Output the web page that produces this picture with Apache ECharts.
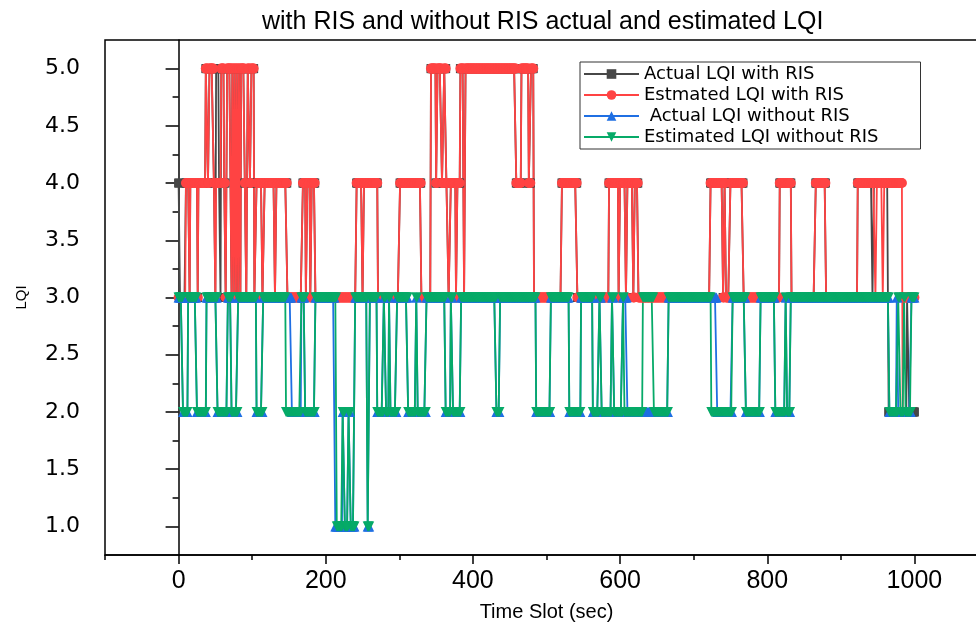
<!DOCTYPE html>
<html>
<head>
<meta charset="utf-8">
<title>LQI</title>
<script src="https://cdn.jsdelivr.net/npm/echarts@6.0.0/dist/echarts.min.js"></script>
<style>
  html, body { margin: 0; padding: 0; background: #fff; overflow: hidden; }
  #chart { width: 976px; height: 622px; }
</style>
</head>
<body>
<div id="chart"></div>
<script>
// 数据: 每个序列按 [起始时隙, LQI] 分段记录, 值保持到下一段开始
const slotCount = 1000

const actualWithRIS = [
    [0, 4], [2, 3], [10, 4], [15, 3], [16, 4], [26, 3], [27, 4], [37, 5], [40, 4], [42, 5], [48, 4], [50, 3],
    [51, 5], [55, 4], [57, 3], [58, 5], [62, 4], [64, 3], [66, 5], [72, 3], [73, 5], [75, 3], [76, 5], [78, 3],
    [79, 5], [81, 3], [82, 5], [84, 3], [85, 5], [90, 4], [92, 3], [94, 5], [97, 4], [99, 5], [103, 3],
    [106, 4], [114, 3], [117, 4], [131, 3], [133, 4], [148, 3],
    [169, 4], [173, 3], [175, 4], [179, 3], [181, 4], [186, 3],
    [242, 4], [250, 3], [252, 4], [271, 3],
    [301, 4], [330, 3],
    [343, 5], [350, 4], [352, 5], [358, 4], [361, 5], [364, 4], [367, 3], [370, 4], [377, 3], [379, 4], [383, 5], [388, 3], [390, 5],
    [459, 4], [466, 5], [476, 4], [479, 5], [483, 3],
    [521, 4], [542, 3],
    [585, 4], [598, 3], [600, 4], [608, 3], [610, 4], [618, 3], [620, 4], [625, 3],
    [723, 4], [740, 3], [742, 4], [744, 3], [750, 4], [768, 3],
    [817, 4], [833, 3],
    [866, 4], [880, 3],
    [923, 4], [943, 3], [945, 4], [965, 2], [990, 3], [993, 2]
]

const estimatedWithRIS = [
    [0, 3], [10, 4], [15, 3], [16, 4], [26, 3], [27, 4], [37, 5], [40, 4], [42, 5], [48, 4], [50, 3], [51, 4],
    [58, 5], [62, 4], [64, 3], [66, 5], [72, 3], [73, 5], [75, 3], [76, 5], [78, 3], [79, 5], [81, 3], [82, 5],
    [84, 3], [85, 5], [90, 4], [92, 3], [94, 5], [97, 4], [99, 5], [103, 3],
    [106, 4], [114, 3], [117, 4], [131, 3], [133, 4], [148, 3],
    [169, 4], [173, 3], [175, 4], [179, 3], [181, 4], [186, 3],
    [242, 4], [250, 3], [252, 4], [271, 3],
    [301, 4], [330, 3],
    [343, 5], [350, 4], [352, 5], [358, 4], [361, 5], [364, 4], [367, 3], [370, 4], [377, 3], [379, 4], [383, 5], [388, 3], [390, 5],
    [459, 4], [466, 5], [476, 4], [479, 5], [483, 3],
    [521, 4], [542, 3],
    [585, 4], [598, 3], [600, 4], [608, 3], [610, 4], [618, 3], [620, 4], [625, 3],
    [723, 4], [740, 3], [742, 4], [744, 3], [750, 4], [768, 3],
    [817, 4], [833, 3],
    [866, 4], [880, 3],
    [923, 4], [947, 3], [949, 4], [957, 3], [959, 4], [984, 2], [986, 3]
]

const actualWithoutRIS = [
    [0, 3], [6, 2], [13, 3], [25, 2], [38, 3], [53, 2], [67, 3], [72, 2], [81, 3], [106, 2], [115, 3],
    [154, 2], [167, 3], [172, 2], [186, 3],
    [213, 1], [223, 2], [226, 1], [231, 2], [234, 1], [240, 3], [257, 1], [260, 3],
    [270, 2], [279, 3], [282, 2], [286, 3], [288, 2], [297, 3],
    [312, 2], [323, 3], [325, 2], [337, 3],
    [363, 2], [370, 3], [373, 2], [384, 3],
    [432, 2], [437, 3],
    [486, 2], [506, 3], [531, 2], [547, 3],
    [563, 2], [572, 3], [575, 2], [589, 3], [592, 2], [604, 3], [610, 2], [666, 3],
    [732, 2], [753, 3], [771, 2], [791, 3], [811, 2], [825, 3], [827, 2], [832, 3],
    [966, 2], [976, 3], [978, 2], [996, 3]
]

const estimatedWithoutRIS = [
    [0, 3], [6, 2], [13, 3], [25, 2], [38, 3], [53, 2], [67, 3], [72, 2], [81, 3], [106, 2], [115, 3],
    [146, 2], [167, 3], [172, 2], [186, 3],
    [215, 1], [223, 2], [226, 1], [231, 2], [234, 1], [240, 3], [257, 1], [260, 3],
    [270, 2], [279, 3], [282, 2], [286, 3], [288, 2], [297, 3],
    [312, 2], [323, 3], [325, 2], [337, 3],
    [363, 2], [370, 3], [373, 2], [384, 3],
    [432, 2], [437, 3],
    [486, 2], [506, 3], [531, 2], [547, 3],
    [563, 2], [572, 3], [575, 2], [589, 3], [592, 2], [604, 3], [606, 2], [631, 3], [646, 2], [666, 3],
    [724, 2], [753, 3], [771, 2], [791, 3], [811, 2], [825, 3], [827, 2], [832, 3],
    [966, 2], [978, 3], [981, 2], [986, 3], [988, 2], [996, 3]
]

const seriesNames = ['Actual LQI with RIS', 'Estmated LQI with RIS', ' Actual LQI without RIS', 'Estimated LQI without RIS']
const xMajorTicks = [0, 200, 400, 600, 800, 1000]
const xMinorTicks = [-100, 100, 300, 500, 700, 900]
const yMajorTicks = [1.0, 1.5, 2.0, 2.5, 3.0, 3.5, 4.0, 4.5, 5.0]
const yMinorTicks = [1.25, 1.75, 2.25, 2.75, 3.25, 3.75, 4.25, 4.75]

// 分段 -> 每个时隙一个点
function expandRuns(runs) {
    const points = []
    let k = 0
    for (let t = 0; t <= slotCount; t++) {
        while (k + 1 < runs.length && runs[k + 1][0] <= t) k++
        points.push([t, runs[k][1]])
    }
    return points
}

const colors = ['#474747', '#ff4343', '#1f6fe3', '#06aa68']
const symbols = ['rect', 'circle', 'triangle', 'triangle']
const rotates = [0, 0, 0, 180]
const sizes = [9, 10, 10, 10]
const allRuns = [actualWithRIS, estimatedWithRIS, actualWithoutRIS, estimatedWithoutRIS]

const chart = echarts.init(document.getElementById('chart'))

const axisBlack = { color: '#000', width: 1.5 }

const option = {
    animation: false,
    backgroundColor: '#fff',
    title: {
        text: 'with RIS and without RIS actual and estimated LQI',
        left: 257,
        top: 5,
        textStyle: {
            fontFamily: 'Liberation Sans',
            fontWeight: 'normal',
            fontSize: 25,
            color: '#000'
        }
    },
    grid: {
        left: 105,
        top: 40,
        right: -12,
        bottom: 67,
        outerBoundsMode: 'none',
        containLabel: false,
        show: true,
        borderColor: '#000',
        borderWidth: 1.5
    },
    legend: {
        orient: 'vertical',
        left: 580,
        top: 62,
        padding: [3, 42, 3, 3],
        itemWidth: 55,
        itemHeight: 12,
        itemGap: 3,
        borderColor: '#333',
        borderWidth: 1,
        backgroundColor: '#fff',
        textStyle: {
            fontFamily: 'DejaVu Sans',
            fontSize: 18,
            color: '#000'
        },
        data: seriesNames
    },
    xAxis: [{
        type: 'value',
        min: -100,
        max: 1100,
        position: 'bottom',
        name: 'Time Slot (sec)',
        nameLocation: 'middle',
        nameGap: 47,
        nameTextStyle: {
            fontFamily: 'Liberation Sans',
            fontSize: 20,
            color: '#000'
        },
        axisLine: { lineStyle: axisBlack },
        axisTick: { customValues: xMajorTicks, length: 9, lineStyle: axisBlack },
        axisLabel: {
            customValues: xMajorTicks,
            margin: 14,
            formatter: (v) => String(v),
            fontFamily: 'Liberation Sans',
            fontSize: 25,
            color: '#000'
        },
        splitLine: { show: false }
    }, {
        // 次刻度
        type: 'value',
        min: -100,
        max: 1100,
        position: 'bottom',
        axisLine: { show: false },
        axisTick: { customValues: xMinorTicks, length: 5, lineStyle: axisBlack },
        axisLabel: { show: false },
        splitLine: { show: false }
    }],
    yAxis: [{
        type: 'value',
        min: 0.75,
        max: 5.25,
        name: 'LQI',
        nameLocation: 'middle',
        nameGap: 76,
        nameTextStyle: {
            fontFamily: 'Liberation Sans',
            fontSize: 15,
            color: '#000'
        },
        axisLine: { show: true, lineStyle: axisBlack },
        axisTick: { show: true, customValues: yMajorTicks, length: 13, lineStyle: axisBlack },
        axisLabel: {
            customValues: yMajorTicks,
            margin: 25,
            formatter: (v) => v.toFixed(1),
            fontFamily: 'DejaVu Sans',
            fontSize: 22,
            color: '#000'
        },
        splitLine: { show: false }
    }, {
        type: 'value',
        min: 0.75,
        max: 5.25,
        position: 'left',
        axisLine: { show: false },
        axisTick: { show: true, customValues: yMinorTicks, length: 6, lineStyle: axisBlack },
        axisLabel: { show: false },
        splitLine: { show: false }
    }],
    series: allRuns.map((runs, i) => ({
        name: seriesNames[i],
        type: 'line',
        xAxisIndex: 0,
        yAxisIndex: 0,
        data: expandRuns(runs),
        symbol: symbols[i],
        symbolRotate: rotates[i],
        symbolSize: sizes[i],
        showAllSymbol: true,
        itemStyle: { color: colors[i] },
        lineStyle: { color: colors[i], width: 1.8 },
        emphasis: { disabled: true }
    }))
}

chart.setOption(option)
</script>
</body>
</html>
